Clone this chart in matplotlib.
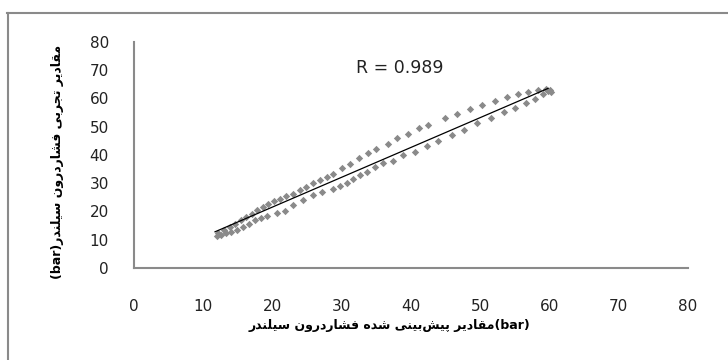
import numpy as np
import matplotlib
matplotlib.use("Agg")
import matplotlib.pyplot as plt
from matplotlib.lines import Line2D

# ---- data ----
upper_x = [12.2, 13.0, 13.8, 14.6, 15.4, 16.2, 17.0, 17.8, 18.6, 19.4, 20.2, 21.1, 22.0, 23.0,
           24.0, 24.9, 25.9, 26.9, 27.8, 28.8, 30.0, 31.2, 32.5, 33.8, 35.0, 36.7, 38.0, 39.6,
           41.2, 42.5, 44.9, 46.7, 48.5, 50.3, 52.1, 53.9, 55.5, 56.9, 58.4, 59.5, 60.0]
upper_y = [12.2, 13.3, 14.4, 15.6, 16.8, 18.0, 19.2, 20.4, 21.6, 22.8, 23.8, 24.5, 25.4, 26.3,
           27.6, 28.7, 29.9, 31.0, 32.2, 33.4, 35.2, 36.9, 38.9, 40.5, 41.9, 44.0, 45.9, 47.5,
           49.6, 50.4, 53.1, 54.6, 56.1, 57.7, 58.9, 60.3, 61.4, 62.2, 63.0, 63.4, 62.9]
lower_x = [12.0, 12.6, 13.3, 14.0, 14.9, 15.8, 16.6, 17.5, 18.4, 19.2, 20.6, 21.8, 23.0, 24.4,
           25.9, 27.1, 28.8, 29.7, 30.7, 31.6, 32.6, 33.6, 34.8, 36.0, 37.4, 38.9, 40.6, 42.3,
           43.9, 45.9, 47.6, 49.6, 51.6, 53.4, 55.0, 56.6, 57.9, 59.0, 59.8, 60.2]
lower_y = [11.4, 11.8, 12.2, 12.8, 13.6, 14.5, 15.7, 16.8, 17.6, 18.4, 19.3, 20.3, 22.2, 24.1,
           25.8, 26.9, 28.1, 29.0, 30.0, 31.3, 32.7, 34.0, 35.6, 37.0, 37.9, 39.9, 41.1, 43.1,
           44.9, 47.0, 48.8, 51.1, 53.1, 55.0, 56.7, 58.4, 59.9, 61.4, 62.7, 62.2]
trend_x = [11.7, 59.8]
trend_y = [12.8, 63.5]

x_ticks = [0, 10, 20, 30, 40, 50, 60, 70, 80]
y_ticks = [0, 10, 20, 30, 40, 50, 60, 70, 80]
r_label = "R = 0.989"
x_title = "مقادیر پیش‌بینی شده فشاردرون سیلندر"
y_title = "مقادیر تجربی فشاردرون سیلندر"
unit = "(bar)"

# ---- minimal Persian shaping (presentation forms) for display ----
FORMS = {  # isolated, final, initial, medial
    'ا': ('\uFE8D', '\uFE8E', None, None),
    'ب': ('\uFE8F', '\uFE90', '\uFE91', '\uFE92'),
    'پ': ('\uFB56', '\uFB57', '\uFB58', '\uFB59'),
    'ت': ('\uFE95', '\uFE96', '\uFE97', '\uFE98'),
    'ج': ('\uFE9D', '\uFE9E', '\uFE9F', '\uFEA0'),
    'د': ('\uFEA9', '\uFEAA', None, None),
    'ر': ('\uFEAD', '\uFEAE', None, None),
    'س': ('\uFEB1', '\uFEB2', '\uFEB3', '\uFEB4'),
    'ش': ('\uFEB5', '\uFEB6', '\uFEB7', '\uFEB8'),
    'ف': ('\uFED1', '\uFED2', '\uFED3', '\uFED4'),
    'ق': ('\uFED5', '\uFED6', '\uFED7', '\uFED8'),
    'ل': ('\uFEDD', '\uFEDE', '\uFEDF', '\uFEE0'),
    'م': ('\uFEE1', '\uFEE2', '\uFEE3', '\uFEE4'),
    'ن': ('\uFEE5', '\uFEE6', '\uFEE7', '\uFEE8'),
    'ه': ('\uFEE9', '\uFEEA', '\uFEEB', '\uFEEC'),
    'و': ('\uFEED', '\uFEEE', None, None),
    'ی': ('\uFBFC', '\uFBFD', '\uFBFE', '\uFBFF'),
}


def shape_rtl(text):
    out = []
    n = len(text)
    for i, ch in enumerate(text):
        if ch not in FORMS:
            if ch != '\u200c':
                out.append(ch)
            continue
        prev = text[i - 1] if i > 0 else ''
        nxt = text[i + 1] if i + 1 < n else ''
        join_prev = prev in FORMS and FORMS[prev][2] is not None
        join_next = nxt in FORMS and FORMS[ch][2] is not None
        iso, fin, ini, med = FORMS[ch]
        if join_prev and join_next:
            out.append(med)
        elif join_prev:
            out.append(fin)
        elif join_next:
            out.append(ini)
        else:
            out.append(iso)
    return ''.join(reversed(out))


GRAY = '#8a8a8a'
plt.rcParams['font.family'] = ['DejaVu Sans']

fig = plt.figure(figsize=(7.28, 3.6), dpi=100)
ax = fig.add_axes([134 / 728, 1 - 268 / 360, (688 - 134) / 728, (268 - 41.7) / 360])

ax.scatter(upper_x, upper_y, marker='D', s=14, color=GRAY, linewidths=0, zorder=3)
ax.scatter(lower_x, lower_y, marker='D', s=14, color=GRAY, linewidths=0, zorder=3)
ax.plot(trend_x, trend_y, color='black', lw=0.9, zorder=4)

ax.text(38.4, 70.8, r_label, ha='center', va='center', fontsize=12.5, color='#222222')

ax.set_xlim(0, 80)
ax.set_ylim(0, 80)
ax.set_xticks(x_ticks)
ax.set_yticks(y_ticks)
ax.tick_params(axis='both', length=0, labelsize=11, labelcolor='#222222')
ax.tick_params(axis='x', pad=22)
ax.tick_params(axis='y', pad=18)
for s in ['top', 'right']:
    ax.spines[s].set_visible(False)
for s in ['left', 'bottom']:
    ax.spines[s].set_color(GRAY)
    ax.spines[s].set_linewidth(1.5)

fig.text(389 / 728, 1 - 326 / 360, shape_rtl(x_title) + unit, ha='center', va='center',
         fontsize=9, fontweight='bold', color='black')
fig.text(58 / 728, 1 - 162 / 360, unit + shape_rtl(y_title), ha='center', va='center',
         rotation=90, fontsize=9, fontweight='bold', color='black')

# outer chart border (top and left edges visible)
fig.add_artist(Line2D([7 / 728, 1.0], [1 - 12.5 / 360, 1 - 12.5 / 360], color=GRAY, lw=1.5,
                      transform=fig.transFigure))
fig.add_artist(Line2D([7.5 / 728, 7.5 / 728], [0, 1 - 12.5 / 360], color=GRAY, lw=1.5,
                      transform=fig.transFigure))

fig.savefig('out.png', dpi=100)
